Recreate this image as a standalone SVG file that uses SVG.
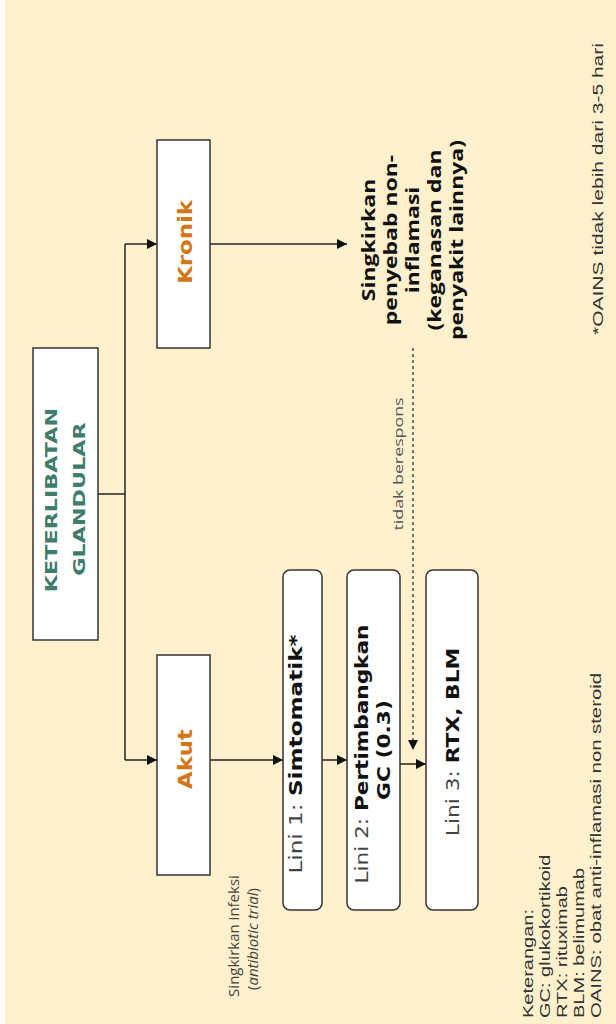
<svg xmlns="http://www.w3.org/2000/svg" width="616" height="1024" viewBox="0 0 616 1024">
<style>
.box{fill:#fff;stroke:#333;stroke-width:1.5}
.rbox{fill:#fff;stroke:#333;stroke-width:1.5}
.ln{fill:none;stroke:#222;stroke-width:1.5}
.ln2{fill:none;stroke:#5a5446;stroke-width:2}
.dash{fill:none;stroke:#333;stroke-width:1.3;stroke-dasharray:3 3}
.title{font-family:"DejaVu Sans",sans-serif;font-weight:bold;font-size:16.5px;fill:#3f7d6b}
.cat{font-family:"DejaVu Sans",sans-serif;font-weight:bold;font-size:19px;fill:#d67515}
.lini{font-family:"DejaVu Sans",sans-serif;font-size:17px;fill:#444}
.b{font-weight:bold;fill:#111}
.note{font-family:"Open Sans",sans-serif;font-weight:bold;font-size:17px;fill:#111}
.lbl{font-family:"Open Sans",sans-serif;font-size:13px;fill:#555}
.lbl2{font-family:"Open Sans",sans-serif;font-size:15px;fill:#444}
.leg{font-family:"Liberation Sans",Arial,sans-serif;font-size:14.5px;fill:#333}
</style>
<defs>
<marker id="ah" viewBox="0 0 10 10" refX="10" refY="5" markerWidth="10" markerHeight="10" markerUnits="userSpaceOnUse" orient="auto">
<path d="M0,0 L10,5 L0,10 z" fill="#111"/>
</marker>
</defs>
<rect x="5" y="0" width="611" height="1024" fill="#fff1cd"/>

<g id="connectors">
<path class="ln" d="M98,494 H125"/>
<path class="ln" d="M125,244 V760"/>
<path class="ln" d="M125,244 H157" marker-end="url(#ah)"/>
<path class="ln" d="M125,760 H157" marker-end="url(#ah)"/>
<path class="ln" d="M210,244 H347" marker-end="url(#ah)"/>
<path class="ln2" d="M210,760 H283" marker-end="url(#ah)"/>
<path class="ln2" d="M322,760 H347" marker-end="url(#ah)"/>
<path class="ln2" d="M400,764 H426" marker-end="url(#ah)"/>
<path class="dash" d="M413,348 V750" marker-end="url(#ah)"/>
</g>

<g id="main">
<rect class="box" x="33" y="348" width="65" height="292"/>
<text class="title" text-anchor="middle" transform="translate(57,500) rotate(-90) scale(1.35,1)">KETERLIBATAN</text>
<text class="title" text-anchor="middle" transform="translate(85,499) rotate(-90) scale(1.35,1)">GLANDULAR</text>
</g>

<g id="kronik">
<rect class="box" x="157" y="140" width="53" height="208"/>
<text class="cat" text-anchor="middle" transform="translate(192,242) rotate(-90) scale(1.2,1)">Kronik</text>
</g>

<g id="akut">
<rect class="box" x="157" y="655" width="53" height="220"/>
<text class="cat" text-anchor="middle" transform="translate(192,759) rotate(-90) scale(1.2,1)">Akut</text>
</g>

<g id="noninflamasi">
<text class="note" text-anchor="middle" transform="translate(375,240) rotate(-90) scale(1.35,1)">Singkirkan</text>
<text class="note" text-anchor="middle" transform="translate(397,240) rotate(-90) scale(1.35,1)">penyebab non-</text>
<text class="note" text-anchor="middle" transform="translate(419,240) rotate(-90) scale(1.35,1)">inflamasi</text>
<text class="note" text-anchor="middle" transform="translate(441,240) rotate(-90) scale(1.35,1)">(keganasan dan</text>
<text class="note" text-anchor="middle" transform="translate(463,240) rotate(-90) scale(1.35,1)">penyakit lainnya)</text>
</g>

<g id="infeksi">
<text class="lbl2" text-anchor="middle" transform="translate(239,936) rotate(-90)">Singkirkan infeksi</text>
<text class="lbl2" text-anchor="middle" transform="translate(258,939) rotate(-90)">(<tspan font-style="italic">antibiotic trial</tspan>)</text>
</g>

<g id="tidak">
<text class="lbl" text-anchor="middle" transform="translate(403,464) rotate(-90) scale(1.37,1)">tidak berespons</text>
</g>

<g id="lini1">
<rect class="rbox" x="283" y="570" width="39" height="340" rx="7"/>
<text class="lini" text-anchor="middle" transform="translate(302,754) rotate(-90) scale(1.36,1)">Lini 1: <tspan class="b">Simtomatik*</tspan></text>
</g>

<g id="lini2">
<rect class="rbox" x="347" y="570" width="53" height="340" rx="7"/>
<text class="lini" text-anchor="middle" transform="translate(368,754) rotate(-90) scale(1.27,1)">Lini 2: <tspan class="b">Pertimbangkan</tspan></text>
<text class="lini b" text-anchor="middle" transform="translate(390,750) rotate(-90) scale(1.28,1)">GC (0.3)</text>
</g>

<g id="lini3">
<rect class="rbox" x="426" y="570" width="52" height="340" rx="7"/>
<text class="lini" text-anchor="middle" transform="translate(459,742) rotate(-90) scale(1.28,1)">Lini 3: <tspan class="b">RTX, BLM</tspan></text>
</g>

<g id="legend">
<text class="leg" transform="translate(533,1018) rotate(-90) scale(1.38,1)">Keterangan:</text>
<text class="leg" transform="translate(550,1018) rotate(-90) scale(1.38,1)">GC: glukokortikoid</text>
<text class="leg" transform="translate(567,1018) rotate(-90) scale(1.38,1)">RTX: rituximab</text>
<text class="leg" transform="translate(584,1018) rotate(-90) scale(1.38,1)">BLM: belimumab</text>
<text class="leg" transform="translate(601,1018) rotate(-90) scale(1.4,1)">OAINS: obat anti-inflamasi non steroid</text>
</g>

<g id="footnote">
<text class="leg" transform="translate(603,335) rotate(-90) scale(1.45,1)">*OAINS tidak lebih dari 3-5 hari</text>
</g>
</svg>
